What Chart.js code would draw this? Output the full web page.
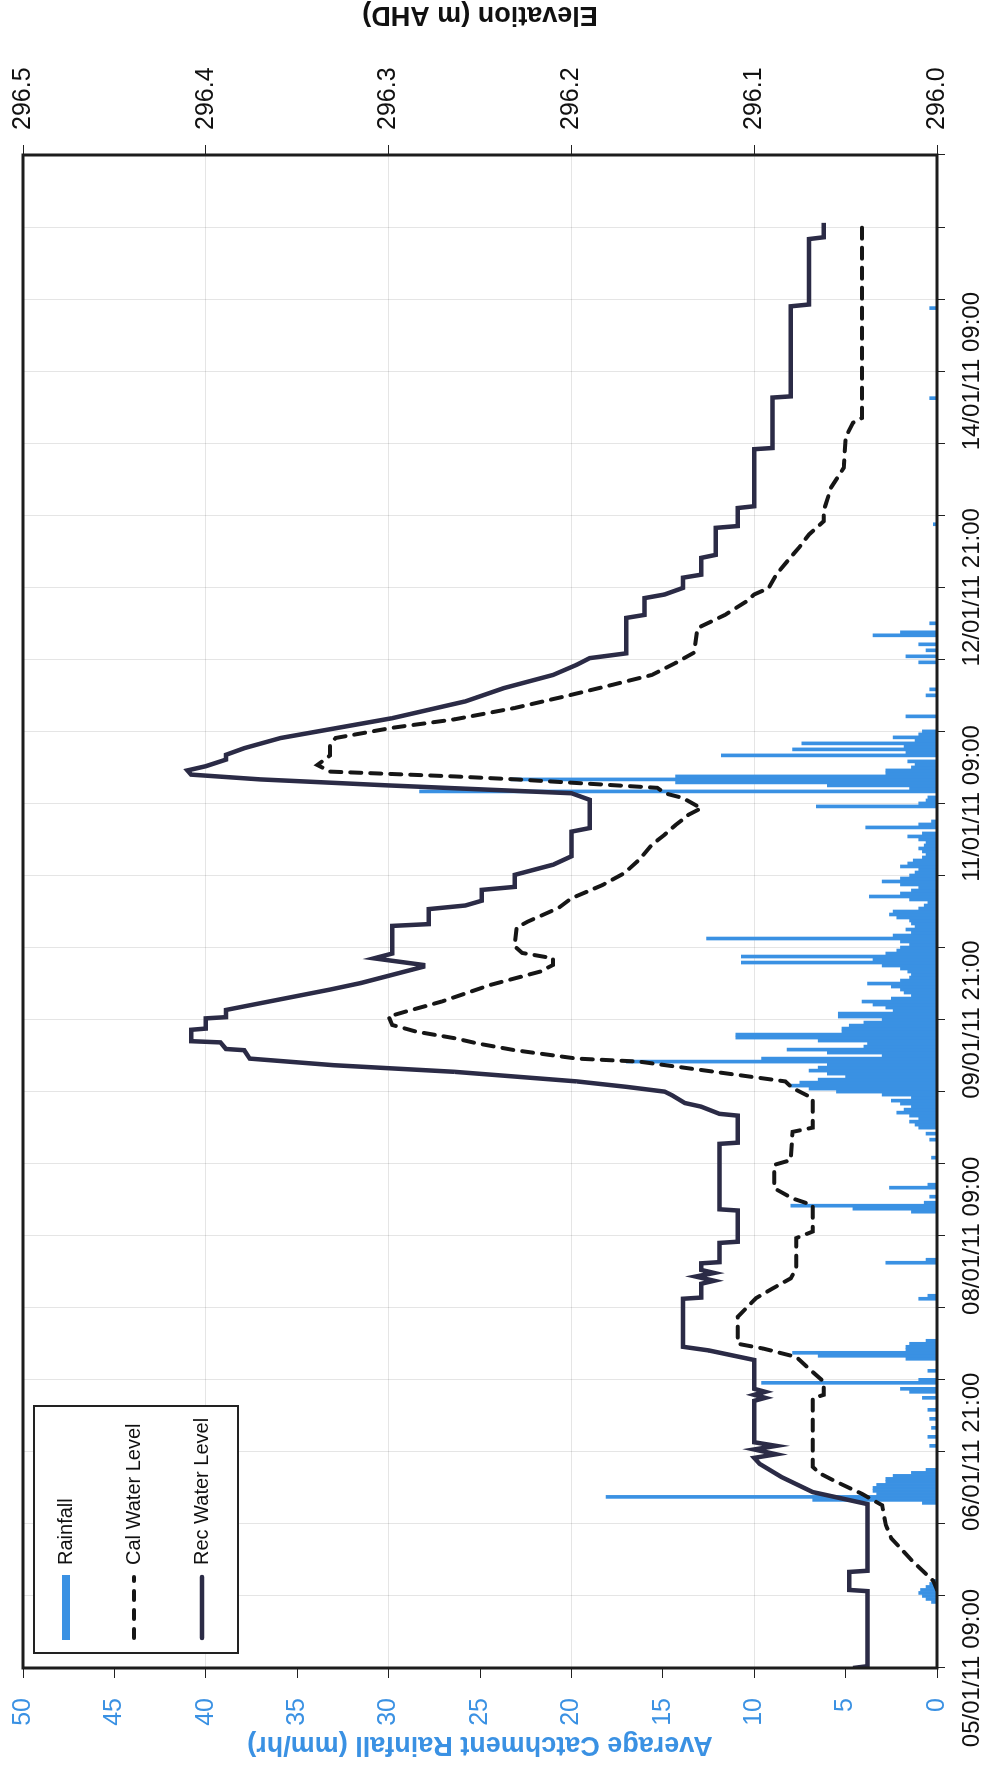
<!DOCTYPE html>
<html>
<head>
<meta charset="utf-8">
<title>Rainfall and water level</title>
<script src="https://cdn.jsdelivr.net/npm/chart.js@4.4.1/dist/chart.umd.min.js"></script>
<style>
    html, body { margin: 0; padding: 0; background: #fff; overflow: hidden; }
    /* the chart is drawn landscape and turned a quarter turn to sit on the portrait page */
    #wrap {
        position: absolute;
        left: 0;
        top: 1767px;
        width: 1767px;
        height: 989px;
        transform-origin: 0 0;
        transform: rotate(-90deg);
    }
    #wrap canvas { display: block; }
</style>
</head>
<body>
<div id="wrap"><canvas id="chart" width="1767" height="989"></canvas></div>
<script>
// time is in hours from 05/01/11 09:00
const labelHours = [0, 36, 72, 108, 144, 180, 216];
const dateLabels = ['05/01/11 09:00', '06/01/11 21:00', '08/01/11 09:00', '09/01/11 21:00',
    '11/01/11 09:00', '12/01/11 21:00', '14/01/11 09:00'];

// average catchment rainfall (mm/hr), half hour bins, zero where not listed
const rainHours = [
    11, 11.5, 12, 12.5, 13, 13.5, 14, 14.5,
    27.5, 28, 28.5, 29, 29.5, 30, 30.5, 31, 31.5, 32, 32.5, 33,
    37, 38.5, 40, 41.5, 43, 45, 46, 46.5, 47.5, 48, 49.5,
    51.5, 52, 52.5, 53, 53.5, 54, 54.5, 61.5, 62, 67.5, 68,
    76, 76.5, 77, 77.5, 78.5, 80, 80.5, 85,
    88, 89, 90, 90.5, 91, 91.5, 92, 92.5, 93, 93.5, 94, 94.5, 95, 95.5, 96, 96.5, 97, 97.5, 98, 98.5, 99, 99.5, 100, 100.5,
    101, 101.5, 102, 102.5, 103, 103.5, 104, 104.5, 105, 105.5, 106, 106.5, 107, 107.5, 108, 108.5, 109, 109.5, 110, 110.5, 111, 111.5, 112, 112.5,
    113, 113.5, 114, 114.5, 115, 115.5, 116, 116.5, 117, 117.5, 118, 118.5, 119, 119.5, 120, 120.5, 121, 121.5, 122, 122.5, 123, 123.5, 124, 124.5, 125, 125.5,
    126, 126.5, 127, 127.5, 128, 128.5, 129, 129.5, 130, 130.5, 131, 131.5, 132, 132.5, 133, 133.5, 134, 134.5, 135, 135.5,
    136, 136.5, 137, 137.5, 138, 138.5, 139, 140, 140.5, 141, 143.5, 144, 144.5, 145,
    146, 146.5, 147, 147.5, 148, 148.5, 149, 149.5, 150, 150.5, 151, 152, 152.5, 153, 153.5, 154, 154.5, 155, 155.5, 156,
    158.5, 162, 163, 167.5, 168.5, 169.5, 170.5, 172, 172.5, 174,
    190.5, 211.5, 226.5
];
const rainRates = [
    0.3, 0.6, 0.8, 1.0, 0.9, 0.6, 0.4, 0.2,
    0.8, 6.8, 18.1, 3.3, 3.5, 3.5, 3.3, 2.8, 2.8, 2.4, 1.4, 0.6,
    0.4, 0.5, 0.3, 0.4, 0.5, 0.8, 1.5, 2.0, 9.6, 1.0, 0.5,
    1.7, 6.5, 7.9, 1.7, 1.7, 1.5, 0.6, 1.0, 0.5, 2.8, 0.6,
    1.4, 4.6, 8.0, 0.7, 0.4, 2.6, 0.5, 0.3,
    0.4, 0.6, 1.0, 1.2, 1.5, 1.0, 1.5, 2.2, 1.8, 1.4, 2.0, 2.5, 1.4, 3.0, 5.5, 7.0, 8.0, 7.5, 6.5, 5.0, 6.0, 7.0, 6.5, 6.0,
    17.0, 9.6, 3.0, 6.0, 8.2, 4.0, 3.8, 6.5, 11.0, 11.0, 5.2, 5.2, 4.8, 4.0, 3.0, 5.4, 5.4, 2.4, 2.8, 3.5, 4.1, 2.5, 1.4, 1.8,
    2.0, 2.5, 3.8, 2.0, 1.5, 1.4, 1.6, 2.0, 3.0, 10.7, 3.5, 10.7, 2.8, 2.2, 2.0, 1.5, 2.0, 12.6, 2.4, 1.4, 1.7, 1.2, 1.4, 1.5, 2.2, 2.6,
    2.4, 1.0, 0.7, 0.5, 1.5, 3.7, 2.0, 1.4, 1.0, 2.0, 3.0, 2.0, 1.5, 1.2, 1.0, 2.0, 1.6, 1.3, 0.8, 0.6,
    0.8, 1.0, 0.7, 0.6, 1.0, 1.6, 0.8, 3.9, 1.0, 0.3, 6.6, 1.0, 0.6, 0.5,
    28.3, 1.5, 6.0, 14.3, 23.3, 14.3, 2.8, 2.8, 1.4, 1.2, 1.6, 11.8, 1.7, 7.9, 1.8, 7.4, 1.2, 2.4, 1.0, 0.8,
    1.7, 0.6, 0.4, 1.0, 1.7, 0.6, 1.0, 3.5, 2.0, 0.4,
    0.2, 0.4, 0.4
];

// calculated water level (m AHD)
const calHours = [
    13, 14.5, 18, 21.6, 23.8, 27.1, 29, 31, 32.4, 33.5, 44.9, 45.5, 47.7, 49.3, 51.8, 53.2, 54, 58.5,
    61.6, 63.2, 64.9, 66.6, 71.6, 72.7, 77.1, 78.2, 79.9, 83.8, 84.6, 89.3, 90, 94.9, 96.6, 97.7,
    98.2, 99.6, 101, 101.5, 102.9, 104, 104.9, 106, 107.1, 108.5, 109.3, 111, 113.8, 116, 117.1, 118.2,
    119.1, 120.2, 123.3, 124.3, 126.6, 128.2, 130.4, 132.4, 134.6, 137.1, 138.8, 140.4, 142.1, 143.2,
    144.9, 145.7, 146.6, 147.4, 148, 148.5, 149.3, 150.4, 152, 153.8, 154.9, 156.6, 158, 159.9, 161.8,
    163.8, 165.4, 167.4, 169.1, 173.2, 175.4, 177.7, 178.8, 179.9, 182.1, 184.3, 186.8, 188.8, 191,
    192.7, 196.6, 199.9, 205, 207.4, 208.2, 240.7
];
const calLevels = [
    296.000, 296.002, 296.014, 296.025, 296.028, 296.030, 296.041, 296.055, 296.064, 296.068, 296.068, 296.062, 296.062, 296.068, 296.077, 296.095, 296.109, 296.109,
    296.099, 296.090, 296.080, 296.077, 296.077, 296.068, 296.068, 296.079, 296.089, 296.089, 296.080, 296.079, 296.068, 296.068, 296.079, 296.083,
    296.095, 296.129, 296.163, 296.197, 296.231, 296.251, 296.264, 296.285, 296.298, 296.300, 296.291, 296.271, 296.244, 296.217, 296.210, 296.210,
    296.227, 296.231, 296.230, 296.224, 296.207, 296.200, 296.183, 296.171, 296.163, 296.156, 296.149, 296.143, 296.136, 296.129,
    296.139, 296.149, 296.153, 296.197, 296.230, 296.264, 296.332, 296.339, 296.332, 296.332, 296.329, 296.298, 296.264, 296.231, 296.204,
    296.177, 296.156, 296.143, 296.133, 296.131, 296.116, 296.104, 296.100, 296.092, 296.088, 296.082, 296.075, 296.070, 296.062,
    296.062, 296.058, 296.051, 296.050, 296.046, 296.041, 296.041
];

// recorded water level (m AHD)
const recHours = [
    0, 0.3, 12.8, 13, 16, 16.2, 27.3, 29.3, 31.8, 34, 35, 35.6, 36.4, 37, 37.6, 44.5, 45, 45.5, 46, 46.5,
    51.3, 52.9, 53.5, 61.5, 61.7, 64, 64.5, 65.2, 65.8, 66.3, 67.4, 67.6, 70.8, 71, 76.2, 76.4, 87.3, 87.5,
    92, 92.3, 93.5, 94.1, 95.4, 96, 96.8, 97.7, 99.3, 100.4, 101.5, 102.9, 103.1, 104.2, 104.4, 106.3, 106.5,
    108.2, 108.4, 109.6, 113, 114.1, 116.8, 117.1, 118.2, 119, 123.6, 123.9, 126.4, 127, 127.8, 129.6, 130.1,
    132.1, 133.8, 135.2, 139.3, 139.9, 144.6, 145.7, 147, 148, 148.8, 149.5, 150.2, 151.3, 152.1, 153.2, 154.9,
    158.2, 161, 163.2, 165.4, 167.1, 168.2, 169, 174.9, 175.4, 178.2, 178.8, 179.9, 181.6, 182.1, 184.9, 185.4,
    189.9, 190.2, 193.2, 193.5, 203, 203.2, 211.6, 211.8, 226.8, 227.1, 238, 238.3, 240.7
];
const recLevels = [
    296.046, 296.038, 296.038, 296.048, 296.048, 296.038, 296.038, 296.068, 296.085, 296.097, 296.100, 296.088, 296.100, 296.088, 296.100, 296.100, 296.094, 296.100, 296.094, 296.100,
    296.100, 296.125, 296.139, 296.139, 296.129, 296.129, 296.122, 296.132, 296.122, 296.129, 296.129, 296.119, 296.119, 296.109, 296.109, 296.119, 296.119, 296.109,
    296.109, 296.119, 296.129, 296.138, 296.145, 296.149, 296.170, 296.197, 296.264, 296.330, 296.376, 296.379, 296.389, 296.392, 296.408, 296.408, 296.400,
    296.400, 296.389, 296.389, 296.332, 296.315, 296.281, 296.281, 296.308, 296.298, 296.298, 296.278, 296.278, 296.258, 296.249, 296.249, 296.231,
    296.231, 296.210, 296.200, 296.200, 296.190, 296.190, 296.200, 296.300, 296.370, 296.408, 296.410, 296.400, 296.389, 296.389, 296.379, 296.359,
    296.298, 296.258, 296.237, 296.210, 296.197, 296.190, 296.170, 296.170, 296.160, 296.160, 296.149, 296.139, 296.139, 296.129, 296.129, 296.121,
    296.121, 296.109, 296.109, 296.100, 296.100, 296.090, 296.090, 296.080, 296.080, 296.070, 296.070, 296.062, 296.062
];

const FONT = "'Liberation Sans', Arial, Helvetica, sans-serif";
const BLUE = '#3a91e3';

Chart.defaults.font.family = FONT;

function pairs(xs, ys) {
    return xs.map((x, i) => ({x: x, y: ys[i]}));
}

// box round the plot area
const frame = {
    id: 'frame',
    afterDatasetsDraw(chart) {
        const a = chart.chartArea;
        const ctx = chart.ctx;
        ctx.save();
        ctx.strokeStyle = '#1c1c1c';
        ctx.lineWidth = 3;
        ctx.strokeRect(a.left, a.top, a.right - a.left, a.bottom - a.top);
        ctx.restore();
    }
};

// right axis title reads bottom to top, like the left one
const elevTitle = {
    id: 'elevTitle',
    afterDraw(chart) {
        const s = chart.scales.elev;
        const a = chart.chartArea;
        const ctx = chart.ctx;
        ctx.save();
        ctx.translate(s.right - 14, (a.top + a.bottom) / 2);
        ctx.rotate(-Math.PI / 2);
        ctx.fillStyle = '#111';
        ctx.font = 'bold 27px ' + FONT;
        ctx.textAlign = 'center';
        ctx.textBaseline = 'middle';
        ctx.fillText('Elevation (m AHD)', 0, 0);
        ctx.restore();
    }
};

// boxed legend in the top left corner of the plot
const boxLegend = {
    id: 'boxLegend',
    afterDraw(chart) {
        const a = chart.chartArea;
        const ctx = chart.ctx;
        const x0 = a.left + 15, y0 = a.top + 11, w = 247, h = 204;
        const sets = chart.data.datasets;
        ctx.save();
        ctx.fillStyle = '#fff';
        ctx.fillRect(x0, y0, w, h);
        ctx.strokeStyle = '#222';
        ctx.lineWidth = 2;
        ctx.strokeRect(x0, y0, w, h);
        ctx.font = '20px ' + FONT;
        ctx.textBaseline = 'middle';
        sets.forEach((ds, i) => {
            const y = y0 + 32 + i * 68;
            const sx = x0 + 13, ex = x0 + 78;
            ctx.save();
            if (ds.type === 'bar') {
                ctx.fillStyle = ds.backgroundColor;
                ctx.fillRect(sx, y - 4, ex - sx, 8);
            } else {
                ctx.strokeStyle = ds.borderColor;
                ctx.lineWidth = ds.borderWidth;
                ctx.lineCap = 'round';
                if (ds.borderDash) ctx.setLineDash([9, 10]);
                ctx.beginPath();
                ctx.moveTo(sx + 2, y);
                ctx.lineTo(ex - 2, y);
                ctx.stroke();
            }
            ctx.restore();
            ctx.fillStyle = '#111';
            ctx.fillText(ds.label, x0 + 88, y);
        });
        ctx.restore();
    }
};

new Chart(document.getElementById('chart'), {
    type: 'line',
    data: {
        datasets: [
            {
                type: 'bar',
                label: 'Rainfall',
                data: pairs(rainHours, rainRates),
                yAxisID: 'rain',
                backgroundColor: BLUE,
                barThickness: 3,
                order: 3,
            },
            {
                label: 'Cal Water Level',
                data: pairs(calHours, calLevels),
                yAxisID: 'elev',
                borderColor: '#161616',
                borderWidth: 4,
                borderDash: [11, 9],
                borderCapStyle: 'round',
                pointRadius: 0,
                tension: 0,
                order: 2,
            },
            {
                label: 'Rec Water Level',
                data: pairs(recHours, recLevels),
                yAxisID: 'elev',
                borderColor: '#2b2b46',
                borderWidth: 4.5,
                pointRadius: 0,
                tension: 0,
                order: 1,
            },
        ],
    },
    options: {
        responsive: false,
        animation: false,
        devicePixelRatio: 1,
        layout: {
            padding: {left: 4, right: 0, top: 23, bottom: 2},
        },
        scales: {
            x: {
                type: 'linear',
                position: 'bottom',
                min: 0,
                max: 252,
                offset: false,
                afterFit: function(scale) {
                    scale.height = 50;
                },
                ticks: {
                    stepSize: 12,
                    autoSkip: false,
                    maxRotation: 0,
                    minRotation: 0,
                    color: '#111',
                    font: {size: 24},
                    padding: 13,
                    callback: function(value) {
                        const i = labelHours.indexOf(value);
                        return i >= 0 ? dateLabels[i] : '';
                    },
                },
                grid: {
                    color: 'rgba(0, 0, 0, 0.1)',
                    lineWidth: 1,
                    offset: false,
                    tickLength: 8,
                    tickColor: '#222',
                },
                border: {display: false},
            },
            rain: {
                type: 'linear',
                position: 'left',
                min: 0,
                max: 50,
                afterFit: function(scale) {
                    scale.width = 95;
                    scale.paddingTop = 0;
                    scale.paddingBottom = 0;
                },
                ticks: {
                    stepSize: 5,
                    color: BLUE,
                    font: {size: 25},
                    padding: 20,
                },
                grid: {
                    drawOnChartArea: false,
                    tickLength: 10,
                    tickColor: '#222',
                },
                border: {display: false},
                title: {
                    display: true,
                    text: 'Average Catchment Rainfall (mm/hr)',
                    color: BLUE,
                    font: {size: 27, weight: 'bold'},
                    padding: {top: 2, bottom: 0},
                },
            },
            elev: {
                type: 'linear',
                position: 'right',
                min: 296.0,
                max: 296.5,
                afterFit: function(scale) {
                    scale.width = 155;
                    scale.paddingTop = 0;
                    scale.paddingBottom = 0;
                },
                ticks: {
                    stepSize: 0.1,
                    color: '#111',
                    font: {size: 25},
                    padding: 15,
                    callback: function(value) {
                        return value.toFixed(1);
                    },
                },
                grid: {
                    color: 'rgba(0, 0, 0, 0.1)',
                    lineWidth: 1,
                    tickLength: 10,
                    tickColor: '#222',
                },
                border: {display: false},
                title: {
                    // space kept here, text drawn by elevTitle
                    display: true,
                    text: 'Elevation (m AHD)',
                    color: 'rgba(0, 0, 0, 0)',
                    font: {size: 27, weight: 'bold'},
                    padding: {top: 0, bottom: 35},
                },
            },
        },
        plugins: {
            legend: {display: false},
            tooltip: {enabled: false},
        },
    },
    plugins: [frame, elevTitle, boxLegend],
});
</script>
</body>
</html>
